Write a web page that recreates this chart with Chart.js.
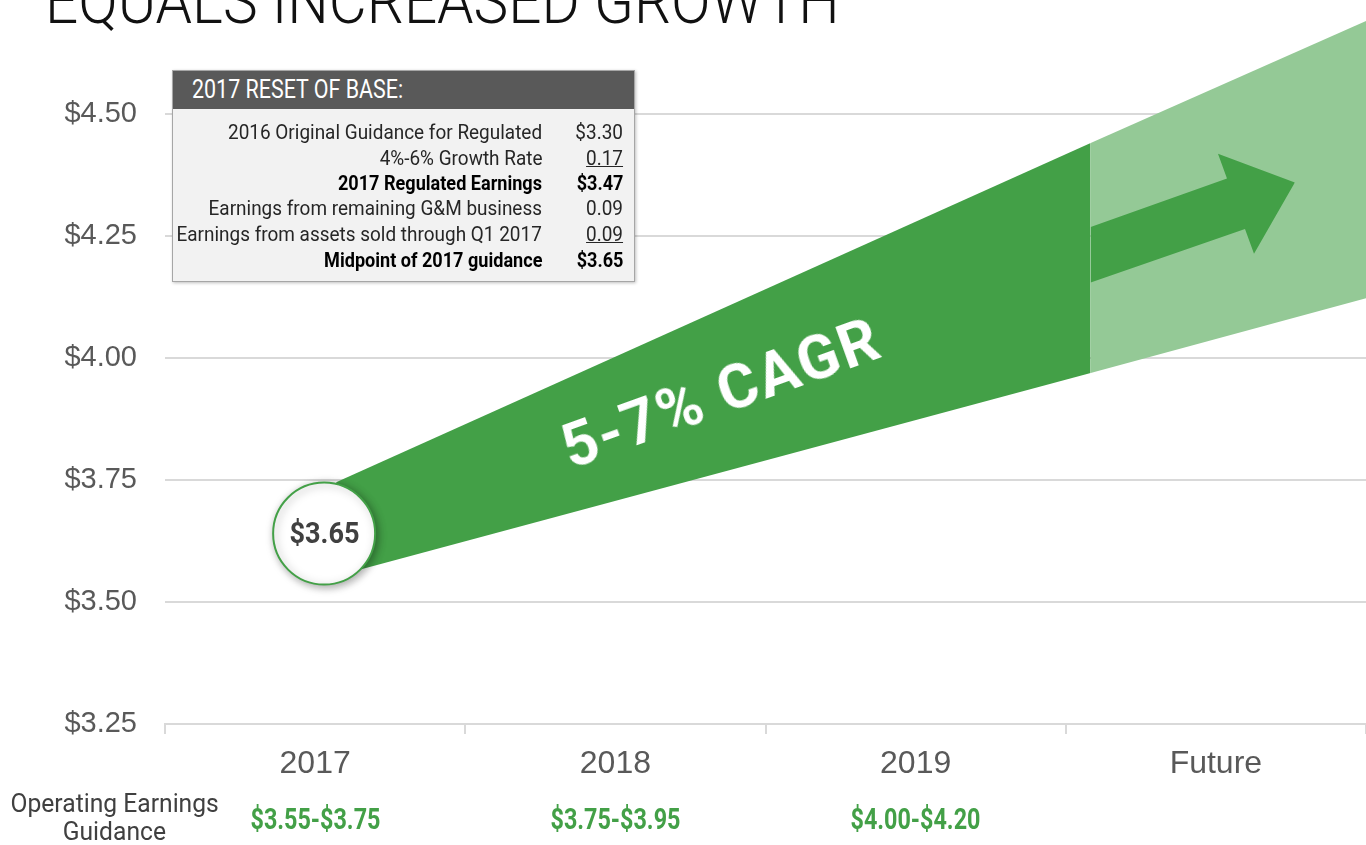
<!DOCTYPE html>
<html>
<head>
<meta charset="utf-8">
<title>Equals increased growth</title>
<script src="https://cdn.jsdelivr.net/npm/chart.js"></script>
<style>
  body { margin: 0; background: #fff; overflow: hidden; }
  #wrap { position: relative; width: 1366px; height: 845px; overflow: hidden; }
  #growthChart { position: absolute; left: 0; top: 0; }
  .lbl { position: absolute; white-space: nowrap; }
  #box { position: absolute; left: 172px; top: 70px; width: 461px; height: 210px; background: #f2f2f2;
         border: 1px solid #a6a6a6; box-shadow: 1px 1px 3px rgba(0, 0, 0, 0.25); }
  #boxHead { position: absolute; left: 0; top: 0; right: 0; height: 38px; background: #595959; }
</style>
</head>
<body>
<div id="wrap">
  <canvas id="growthChart" width="1366" height="845"></canvas>
  <div id="box"><div id="boxHead"></div></div>
</div>
<script>
    var categories = ['2017', '2018', '2019', 'Future'];
    var guidance = ['$3.55-$3.75', '$3.75-$3.95', '$4.00-$4.20'];
    var yTicks = [3.25, 3.50, 3.75, 4.00, 4.25, 4.50];

    // x is the category position (0 = 2017, 3 = Future)
    var startPoint = [{x: 0.03, y: 3.64}];
    var nearUpper = [{x: 0.07, y: 3.745}, {x: 2.583, y: 4.44}];
    var nearLower = [{x: 0.07, y: 3.553}, {x: 2.583, y: 3.969}];
    var futureUpper = [{x: 2.583, y: 4.44}, {x: 3.5, y: 4.69}];
    var futureLower = [{x: 2.583, y: 3.969}, {x: 3.5, y: 4.122}];
    var arrowUpper = [{x: 2.583, y: 4.268}, {x: 3.037, y: 4.367}, {x: 3.007, y: 4.418}, {x: 3.263, y: 4.359}];
    var arrowLower = [{x: 2.583, y: 4.154}, {x: 3.097, y: 4.264}, {x: 3.127, y: 4.213}, {x: 3.263, y: 4.359}];

    var resetLabels = ['2016 Original Guidance for Regulated', '4%-6% Growth Rate', '2017 Regulated Earnings',
        'Earnings from remaining G&M business', 'Earnings from assets sold through Q1 2017', 'Midpoint of 2017 guidance'];
    var resetValues = ['$3.30', '0.17', '$3.47', '0.09', '0.09', '$3.65'];
    var resetBold = [false, false, true, false, false, true];
    var resetUnderline = [false, true, false, false, true, false];

    var dark = '#43a047';
    var light = '#94c996';

    function edge(data, fill, color) {
        return {
            data: data, xAxisID: 'x2', fill: fill, backgroundColor: color,
            borderColor: 'transparent', borderWidth: 0, pointRadius: 0
        };
    }

    var circleShadow = {
        id: 'circleShadow',
        beforeDatasetDraw: function (chart, args) {
            if (args.index !== 0) return;
            var ctx = chart.ctx;
            ctx.save();
            ctx.shadowColor = 'rgba(0, 0, 0, 0.35)';
            ctx.shadowBlur = 8;
            ctx.shadowOffsetX = 2;
            ctx.shadowOffsetY = 2;
        },
        afterDatasetDraw: function (chart, args) {
            if (args.index === 0) chart.ctx.restore();
        }
    };

    var axisFont = 'Liberation Sans, Arial, sans-serif';

    var chart = new Chart(document.getElementById('growthChart').getContext('2d'), {
        type: 'line',
        data: {
            labels: categories,
            datasets: [
                {
                    data: startPoint, xAxisID: 'x2', showLine: false, pointRadius: 51,
                    pointBackgroundColor: '#fff', pointBorderColor: dark, pointBorderWidth: 2
                },
                edge(arrowUpper, false, dark),
                edge(arrowLower, 1, dark),
                edge(nearUpper, false, dark),
                edge(nearLower, 3, dark),
                edge(futureUpper, false, light),
                edge(futureLower, 5, light)
            ]
        },
        options: {
            responsive: false,
            animation: false,
            events: [],
            layout: {autoPadding: false, padding: {top: 16, left: 0, right: 0, bottom: 0}},
            plugins: {legend: {display: false}, tooltip: {enabled: false}},
            scales: {
                x: {
                    type: 'category',
                    offset: true,
                    grid: {offset: true, drawOnChartArea: false, color: '#d9d9d9', lineWidth: 2, tickLength: 10},
                    border: {color: '#d9d9d9', width: 2},
                    ticks: {color: '#595959', font: {family: axisFont, size: 32}, padding: 11, maxRotation: 0},
                    afterFit: function (s) {
                        s.height = 121;
                        s.paddingLeft = 0;
                        s.paddingRight = 0;
                    }
                },
                x2: {type: 'linear', display: false, min: -0.5, max: 3.5},
                y: {
                    min: 3.25,
                    max: 4.70,
                    afterBuildTicks: function (s) {
                        s.ticks = yTicks.map(function (v) { return {value: v}; });
                    },
                    ticks: {
                        color: '#595959',
                        font: {family: axisFont, size: 29},
                        padding: 28,
                        callback: function (v) { return '$' + Number(v).toFixed(2); }
                    },
                    grid: {color: '#d9d9d9', lineWidth: 2, drawTicks: false},
                    border: {display: false},
                    afterFit: function (s) {
                        s.width = 165;
                        s.paddingTop = 0;
                        s.paddingBottom = 0;
                    }
                }
            }
        },
        plugins: [circleShadow]
    });

    // text placed by baseline; width fits condensed type
    var wrap = document.getElementById('wrap');
    function label(txt, o) {
        var el = document.createElement('div');
        el.className = 'lbl';
        el.textContent = txt;
        el.style.fontFamily = o.family || 'Roboto, sans-serif';
        el.style.fontWeight = o.weight || 400;
        el.style.fontSize = o.size + 'px';
        el.style.lineHeight = '1';
        el.style.color = o.color;
        if (o.underline) el.style.textDecoration = 'underline';
        wrap.appendChild(el);
        var w = el.offsetWidth;
        var s = o.width ? o.width / w : (o.scale || 1);
        var left = o.x;
        var origin = 'left';
        if (o.align === 'right') { left = o.x - w; origin = 'right'; }
        if (o.align === 'center') { left = o.x - w / 2; origin = 'center'; }
        el.style.left = left + 'px';
        el.style.top = (o.y - 0.842 * o.size) + 'px';
        el.style.transformOrigin = origin + ' 50%';
        el.style.transform = 'scaleX(' + s + ')';
        return s;
    }

    label('EQUALS INCREASED GROWTH', {x: 45, y: 23.5, size: 64, weight: 300, color: '#111', width: 795});

    label('2017 RESET OF BASE:', {x: 192, y: 98, size: 25, color: '#fff', width: 211});
    var rowY = [139, 165, 190, 215, 241, 267];
    var regScale = null, boldScale = null;
    resetLabels.forEach(function (txt, i) {
        var bold = resetBold[i];
        var opts = {x: 542, y: rowY[i], size: 19.5, weight: bold ? 700 : 400, color: bold ? '#000' : '#262626', align: 'right'};
        if (i === 0) opts.width = 314;
        else if (i === 2) opts.width = 204;
        else opts.scale = bold ? boldScale : regScale;
        var s = label(txt, opts);
        if (i === 0) regScale = s;
        if (i === 2) boldScale = s;
    });
    resetValues.forEach(function (txt, i) {
        var bold = resetBold[i];
        label(txt, {x: 623, y: rowY[i], size: 19.5, weight: bold ? 700 : 400, color: bold ? '#000' : '#262626',
            align: 'right', underline: resetUnderline[i], scale: bold ? boldScale : regScale});
    });

    var s1 = label('Operating Earnings', {x: 114, y: 812, size: 25, color: '#404040', align: 'center', width: 208});
    label('Guidance', {x: 114, y: 840, size: 25, color: '#404040', align: 'center', scale: s1});

    var gScale = null;
    guidance.forEach(function (txt, i) {
        var cx = chart.scales.x.getPixelForTick(i);
        var o = {x: cx, y: 829, size: 30, weight: 700, color: dark, align: 'center'};
        if (i === 0) o.width = 130; else o.scale = gScale;
        var s = label(txt, o);
        if (i === 0) gScale = s;
    });

    var cx0 = chart.scales.x2.getPixelForValue(startPoint[0].x);
    var cy0 = chart.scales.y.getPixelForValue(startPoint[0].y);
    label('$3.65', {x: cx0, y: cy0 + 10, size: 29, weight: 700, color: '#404040', align: 'center', width: 70});

    // rotated growth label inside the band
    (function () {
        var size = 61, ls = 0;
        var el = document.createElement('div');
        el.className = 'lbl';
        el.textContent = '5-7% CAGR';
        el.style.fontFamily = 'Roboto, sans-serif';
        el.style.fontWeight = 700;
        el.style.fontSize = size + 'px';
        el.style.lineHeight = '1';
        el.style.color = '#fff';
        wrap.appendChild(el);
        var w = el.offsetWidth;
        var n = el.textContent.length;
        ls = (332 - w) / (n - 1);
        el.style.letterSpacing = ls + 'px';
        var vis = w + (n - 1) * ls;
        var cx = chart.scales.x2.getPixelForValue(1.347);
        var cy = chart.scales.y.getPixelForValue(3.927);
        el.style.left = (cx - vis / 2) + 'px';
        el.style.top = (cy - size / 2) + 'px';
        el.style.transformOrigin = (vis / 2) + 'px ' + (size / 2) + 'px';
        el.style.transform = 'rotate(-19.8deg)';
    })();
</script>
</body>
</html>
